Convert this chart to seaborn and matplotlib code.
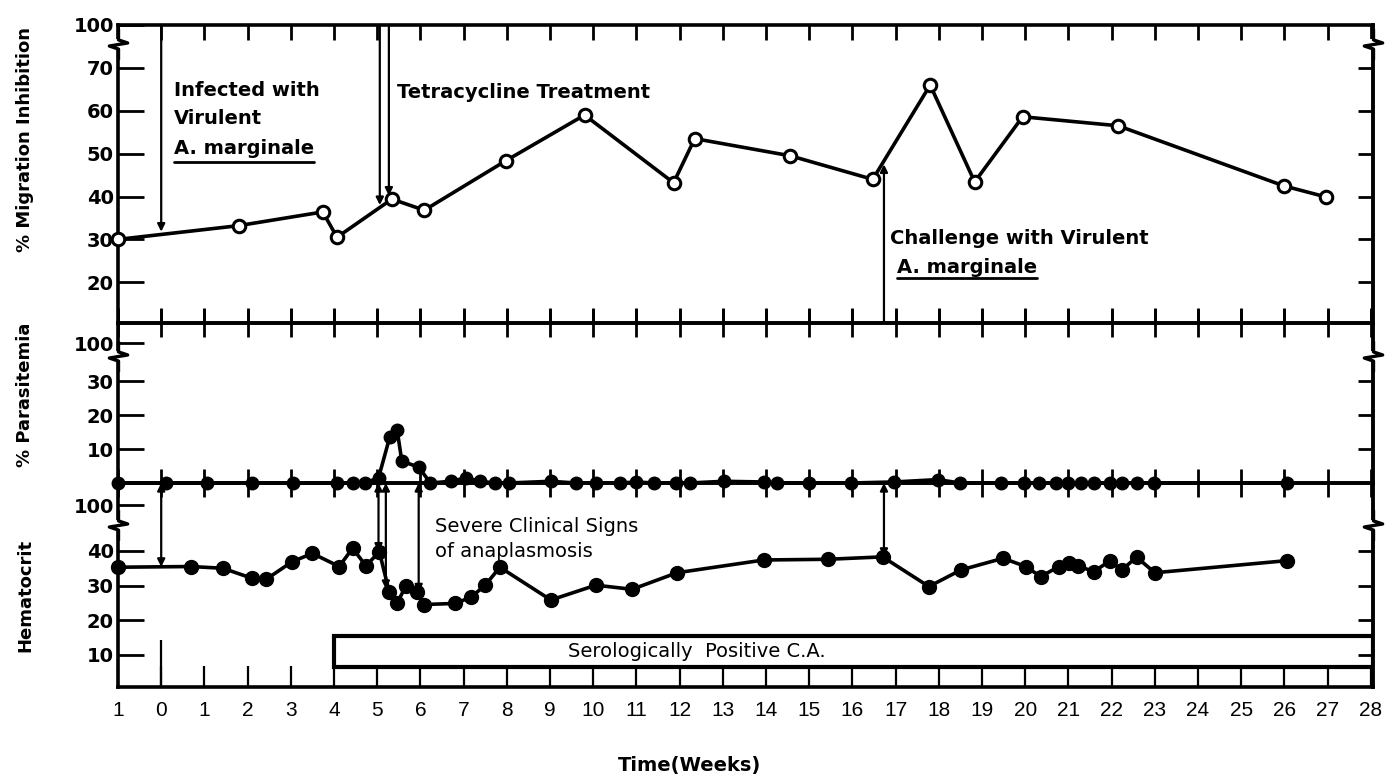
import matplotlib
matplotlib.use("Agg")
import matplotlib.pyplot as plt
import seaborn as sns
from matplotlib.patches import Rectangle
from matplotlib.path import Path

# x axis (weeks)
weeks_axis = list(range(-1, 29))
week_labels = [str(abs(w)) for w in weeks_axis]  # the minus of -1 is lost in the original

# % migration inhibition (open circles)
mig_weeks = [-1.0, 1.79, 3.74, 4.07, 5.34, 6.09, 7.97, 9.80, 11.86, 12.35,
             14.56, 16.47, 17.80, 18.83, 19.94, 22.15, 25.98, 26.96]
mig_values = [30.0, 33.2, 36.4, 30.5, 39.4, 36.8, 48.3, 59.0, 43.2, 53.5,
              49.5, 44.0, 66.0, 43.4, 58.6, 56.5, 42.5, 39.9]

# % parasitemia
par_weeks = [-1.0, 0.1, 1.05, 2.1, 3.05, 4.07, 4.43, 4.71, 5.03, 5.29, 5.46,
             5.57, 5.96, 6.23, 6.70, 7.06, 7.37, 7.73, 8.04, 9.02, 9.60,
             10.06, 10.63, 10.99, 11.41, 11.92, 12.23, 13.02, 13.95, 14.25,
             14.99, 15.96, 16.96, 17.98, 18.49, 19.44, 19.98, 20.33, 20.72,
             21.0, 21.28, 21.60, 21.97, 22.23, 22.58, 22.97, 26.05]
par_values = [0, 0, 0, 0, 0, 0, 0, 0, 1.5, 13.5, 15.7,
              6.4, 4.7, 0, 0.5, 1.5, 0.5, 0, 0, 0.5, 0,
              0, 0, 0.3, 0, 0, 0, 0.5, 0.3, 0,
              0, 0, 0.3, 1.0, 0, 0, 0, 0, 0,
              0, 0, 0, 0, 0, 0, 0, 0]

# hematocrit
hct_weeks = [-1.0, 0.69, 1.43, 2.10, 2.43, 3.03, 3.50, 4.12, 4.43, 4.74, 5.05,
             5.28, 5.46, 5.67, 5.92, 6.08, 6.80, 7.17, 7.50, 7.84, 9.02, 10.06,
             10.90, 11.94, 13.95, 15.43, 16.70, 17.77, 18.51, 19.49, 20.01,
             20.36, 20.78, 21.01, 21.22, 21.59, 21.96, 22.23, 22.58, 23.0, 26.05]
hct_values = [35.3, 35.5, 35.0, 32.1, 31.8, 36.9, 39.3, 35.5, 40.8, 35.7, 39.8,
              28.0, 25.0, 29.9, 28.0, 24.5, 24.8, 26.6, 30.1, 35.3, 25.8, 30.1,
              28.9, 33.7, 37.4, 37.6, 38.3, 29.7, 34.5, 37.9, 35.5,
              32.6, 35.5, 36.6, 35.7, 34.0, 37.2, 34.5, 38.2, 33.7, 37.2]

sns.set_style("ticks")
plt.rcParams["font.family"] = ["DejaVu Sans"]
plt.rcParams["text.color"] = "black"
plt.rcParams["xtick.color"] = "black"
plt.rcParams["ytick.color"] = "black"
plt.rcParams["axes.labelcolor"] = "black"

fig = plt.figure(figsize=(13.94, 7.79), dpi=100)
L, W = 118 / 1394, (1373 - 118) / 1394
ax1 = fig.add_axes([L, 1 - 323 / 779, W, (323 - 25) / 779])
ax3 = fig.add_axes([L, 1 - 687 / 779, W, (687 - 483) / 779])
ax2 = fig.add_axes([L, 1 - 483 / 779, W, (483 - 323) / 779])
ax2.patch.set_visible(False)  # so the baseline dots are not cut by the panel below

XMAX = 28.05
ax1.set_ylim(10.5, 80)
ax2.set_ylim(0, 47.1)
ax3.set_ylim(0.6, 59.7)

sns.lineplot(x=mig_weeks, y=mig_values, ax=ax1, color="black", lw=2.6,
             marker="o", markersize=9, markerfacecolor="white",
             markeredgecolor="black", markeredgewidth=2.2,
             estimator=None, sort=False, clip_on=False, zorder=5)
sns.lineplot(x=par_weeks, y=par_values, ax=ax2, color="black", lw=2.6,
             marker="o", markersize=9, markerfacecolor="black",
             markeredgecolor="black", markeredgewidth=1,
             estimator=None, sort=False, clip_on=False, zorder=5)
sns.lineplot(x=hct_weeks, y=hct_values, ax=ax3, color="black", lw=2.6,
             marker="o", markersize=10, markerfacecolor="black",
             markeredgecolor="black", markeredgewidth=1,
             estimator=None, sort=False, clip_on=False, zorder=5)

ytick_sets = {
    ax1: ([20, 30, 40, 50, 60, 70, 80], ["20", "30", "40", "50", "60", "70", "100"]),
    ax2: ([10, 20, 30, 41.2], ["10", "20", "30", "100"]),
    ax3: ([10, 20, 30, 40, 53.3], ["10", "20", "30", "40", "100"]),
}

for ax, (ticks, labels) in ytick_sets.items():
    ax.set_xlim(-1, XMAX)
    ax.set_xticks(weeks_axis)
    ax.set_yticks(ticks)
    ax.set_yticklabels(labels, fontsize=14, fontweight="bold")
    ax.tick_params(axis="y", direction="in", length=19, width=2, pad=3)
    for s in ax.spines.values():
        s.set_visible(True)
        s.set_linewidth(2.6)
        s.set_color("black")
    sec = ax.secondary_yaxis("right")
    sec.set_yticks(ticks[:-1])
    sec.set_yticklabels([])
    sec.tick_params(direction="in", length=11, width=2)
    sec.spines["right"].set_linewidth(2.6)
    ax.set_xlabel("")
    ax.set_ylabel("")

ax1.tick_params(axis="x", top=True, bottom=True, direction="in", length=11,
                width=2, labelbottom=False)
ax2.tick_params(axis="x", top=True, bottom=True, direction="inout", length=20,
                width=2, labelbottom=False)
ax3.tick_params(axis="x", top=False, bottom=True, direction="in", length=15,
                width=1.6, pad=10)
ax3.set_xticklabels(week_labels, fontsize=15, family=["Liberation Sans"])

# axis break marks
zig = Path([(0, 1), (0, 0.3), (0.6, 0.1), (-0.6, -0.1), (0, -0.3), (0, -1)])
for ax, yb in [(ax1, 75.5), (ax2, 37.4), (ax3, 47.5)]:
    for xb in (-1, XMAX):
        ax.plot([xb], [yb], marker="|", ms=7, mew=6, color="white",
                clip_on=False, zorder=6)
        ax.plot([xb], [yb], marker=zig, ms=22, mfc="none", mec="black",
                mew=2.4, ls="none", clip_on=False, zorder=7)


def arrow(ax, x, y_from, y_to, style="-|>"):
    ax.annotate("", xy=(x, y_to), xytext=(x, y_from),
                arrowprops=dict(arrowstyle=style, color="black", lw=1.6,
                                shrinkA=0, shrinkB=0, mutation_scale=11),
                annotation_clip=False)


# event arrows, top panel
arrow(ax1, 0, 80, 31.8)
arrow(ax1, 5.06, 80, 38.0)
arrow(ax1, 5.27, 80, 40.2)
arrow(ax1, 16.73, 10.5, 47.5)

# event arrows, parasitemia -> hematocrit
top3 = ax3.get_ylim()[1]
arrow(ax3, 0, top3, 35.4, "<|-|>")
arrow(ax3, 5.03, top3, 39.8, "<|-|>")
arrow(ax3, 5.2, top3, 29.0, "<|-|>")
arrow(ax3, 5.96, top3, 28.0, "<|-|>")
arrow(ax3, 16.73, top3, 38.3, "<|-|>")
ax3.vlines(0, ax3.get_ylim()[0], 14.2, color="black", lw=1.6)

# serology bar
ax3.add_patch(Rectangle((4, 6.4), XMAX - 4, 9.0, fill=False, lw=3,
                        edgecolor="black", zorder=4))
ax3.text(12.4, 10.9, "Serologically  Positive C.A.", ha="center", va="center",
         fontsize=14)

bold = dict(fontsize=14, fontweight="bold", va="center")
ax1.text(0.30, 64.8, "Infected with", **bold)
ax1.text(0.30, 58.3, "Virulent", **bold)
t1 = ax1.text(0.30, 51.3, "A. marginale", **bold)
ax1.text(5.46, 64.3, "Tetracycline Treatment", **bold)
ax1.text(16.87, 30.3, "Challenge with Virulent", **bold)
t2 = ax1.text(17.03, 23.5, "A. marginale", **bold)
ax3.text(6.34, 47.0, "Severe Clinical Signs", fontsize=14, va="center")
ax3.text(6.34, 39.8, "of anaplasmosis", fontsize=14, va="center")

# underline the species names
fig.canvas.draw()
inv = ax1.transData.inverted()
for t, yu in [(t1, 48.0), (t2, 21.0)]:
    bb = t.get_window_extent()
    x0 = inv.transform((bb.x0, bb.y0))[0]
    x1 = inv.transform((bb.x1, bb.y0))[0]
    ax1.plot([x0, x1], [yu, yu], color="black", lw=2)

fig.text(25 / 1394, 1 - 140 / 779, "% Migration Inhibition", rotation=90,
         ha="center", va="center", fontsize=13, fontweight="bold")
fig.text(25 / 1394, 1 - 395 / 779, "% Parasitemia", rotation=90,
         ha="center", va="center", fontsize=13, fontweight="bold")
fig.text(25 / 1394, 1 - 595 / 779, "Hematocrit", rotation=90,
         ha="center", va="center", fontsize=13, fontweight="bold")
fig.text(690 / 1394, 1 - 765 / 779, "Time(Weeks)", ha="center", va="center",
         fontsize=14, fontweight="bold")

fig.savefig("out.png", dpi=100, facecolor="white")
